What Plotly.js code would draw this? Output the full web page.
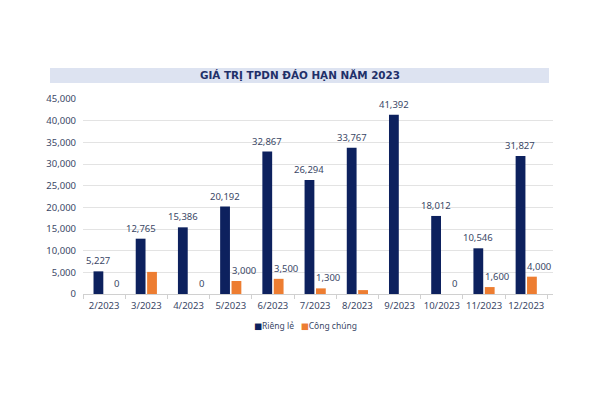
<!DOCTYPE html>
<html><head><meta charset="utf-8">
<script src="https://cdn.plot.ly/plotly-3.0.1.min.js"></script>
<style>html,body{margin:0;padding:0;background:#fff}#c{width:600px;height:400px}</style>
</head><body><div id="c"></div>
<script>
const categories = ['2/2023','3/2023','4/2023','5/2023','6/2023','7/2023','8/2023','9/2023','10/2023','11/2023','12/2023'];
const riengLe = [5227, 12765, 15386, 20192, 32867, 26294, 33767, 41392, 18012, 10546, 31827];
const congChung = [0, 5100, 0, 3000, 3500, 1300, 900, null, 0, 1600, 4000];
const riengLeLabels = ['5,227','12,765','15,386','20,192','32,867','26,294','33,767','41,392','18,012','10,546','31,827'];
const congChungLabels = ['0','','0','3,000','3,500','1,300','','','0','1,600','4,000'];
const yTicks = [0,5000,10000,15000,20000,25000,30000,35000,40000,45000];
const yTickText = ['0','5,000','10,000','15,000','20,000','25,000','30,000','35,000','40,000','45,000'];
const seriesNames = ['Riêng lẻ','Công chúng'];
const seriesColors = ['#0d215e','#ed7d31'];

const txtColor = '#3a4766';
const font = 'Noto Sans, DejaVu Sans, sans-serif';
const fs = 9.5;
const margin = {l:83, r:47, t:99, b:106};
const bargap = 0.46;
const plotW = 600 - margin.l - margin.r;
const plotH = 400 - margin.t - margin.b;
const slotPx = plotW / categories.length * (1 - bargap) / 2;
const barOffset = slotPx / 2;
const px2paperX = px => (px - margin.l) / plotW;
const px2paperY = py => (400 - margin.b - py) / plotH;

const data = [
  {type:'bar', name:seriesNames[0], x:categories, y:riengLe, marker:{color:seriesColors[0]}, hoverinfo:'none', showlegend:false},
  {type:'bar', name:seriesNames[1], x:categories, y:congChung, marker:{color:seriesColors[1]}, hoverinfo:'none', showlegend:false}
];

const annotations = [];
categories.forEach((c, i) => {
  annotations.push({x:c, y:riengLe[i], text:riengLeLabels[i], showarrow:false, xanchor:'center', yanchor:'bottom',
    xshift:-barOffset, yshift:2, font:{family:font, size:fs, color:txtColor}});
  if (congChungLabels[i]) {
    annotations.push({x:c, y:congChung[i] || 0, text:congChungLabels[i], showarrow:false, xanchor:'center', yanchor:'bottom',
      xshift:barOffset + 7, yshift:2, font:{family:font, size:fs, color:txtColor}});
  }
});
// legend drawn as text
annotations.push({xref:'paper', yref:'paper', x:px2paperX(305), y:px2paperY(325.5), xanchor:'center', yanchor:'middle', showarrow:false,
  text:'<span style="color:' + seriesColors[0] + '">■</span>' + seriesNames[0] + '&nbsp;&nbsp;&nbsp;<span style="color:' + seriesColors[1] + '">■</span>' + seriesNames[1],
  font:{family:font, size:8.5, color:txtColor}});

const layout = {
  width:600, height:400,
  margin:margin,
  paper_bgcolor:'#fff', plot_bgcolor:'#fff',
  font:{family:font, color:txtColor, size:fs},
  barmode:'group', bargap:bargap, bargroupgap:0.14,
  title:{text:'<b>GIÁ TRỊ TPDN ĐÁO HẠN NĂM 2023</b>', font:{family:'DejaVu Sans, sans-serif', size:10.4, color:'#1f3069'},
         x:0.5, xref:'container', y:1 - 75.5/400, yref:'container', xanchor:'center', yanchor:'middle', automargin:false},
  xaxis:{type:'category', showgrid:false, showline:true, linecolor:'#d0d0d0', linewidth:1, automargin:false,
         ticks:'outside', tickson:'boundaries', ticklen:4, tickcolor:'#d0d0d0', tickangle:0, ticklabelstandoff:3,
         tickfont:{family:font, size:fs, color:txtColor}},
  yaxis:{range:[0,45000], tickvals:yTicks, ticktext:yTickText, showgrid:true, gridcolor:'#e3e3e3', automargin:false,
         zeroline:false, showline:false, tickfont:{family:font, size:fs, color:txtColor}, ticks:'', ticklabelstandoff:6},
  annotations:annotations,
  shapes:[{type:'rect', xref:'paper', yref:'paper', x0:px2paperX(50), x1:px2paperX(549),
           y0:px2paperY(83), y1:px2paperY(68), fillcolor:'#dde3f1', line:{width:0}, layer:'below'}],
  showlegend:false
};
Plotly.newPlot('c', data, layout, {staticPlot:true, displayModeBar:false});
</script></body></html>
